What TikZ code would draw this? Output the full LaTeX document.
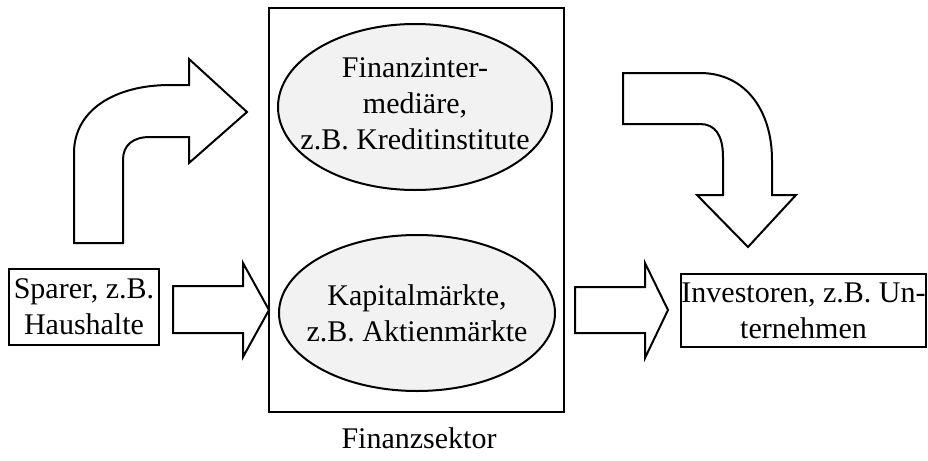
\documentclass[tikz,border=0pt]{standalone}
\usepackage{fontspec}
\setmainfont{Liberation Serif}
\usetikzlibrary{shapes.geometric}

\tikzset{
  blockarrow/.style={draw=black, fill=white, line width=1pt, line join=miter},
  speckled/.style={ellipse, draw, line width=1pt, fill=black!5, inner sep=0pt},
  plainbox/.style={rectangle, draw, line width=0.9pt, inner sep=0pt, align=center}
}

\begin{document}
\begin{tikzpicture}[x=0.5pt, y=-0.5pt, font=\fontsize{15}{18}\selectfont]
    \useasboundingbox (0,0) rectangle (928,461);
    \node [plainbox, line width=1.2pt, minimum width=147.5pt, minimum height=202pt] (sektor) at (416.5,210) {};
    \node [anchor=base] (sektorname) at (419,448) {Finanzsektor}; % Text node
    \node [speckled, minimum width=137pt, minimum height=83pt] (fi) at (415,107) {};
    \node [align=center] (fitext) at (415,104) {Finanzinter-\\mediäre,\\z.B. Kreditinstitute};
    \node [speckled, minimum width=138pt, minimum height=78pt] (km) at (417,313) {};
    \node [align=center] (kmtext) at (km) {Kapitalmärkte,\\z.B. Aktienmärkte};
    \node [plainbox, minimum width=75pt, minimum height=38pt] (sparer) at (84,307) {Sparer, z.B.\\Haushalte};
    \node [plainbox, minimum width=122.5pt, minimum height=36.5pt] (invest) at (803.5,310.5) {Investoren, z.B. Un-\\ternehmen};
    % Curved arrow up into the intermediaries
    \draw[blockarrow] (74,243) -- (74,153) .. controls (74,110) and (115,85) .. (170,85) -- (189,85) -- (189,59)
        -- (247,112) -- (189,163) -- (189,137) -- (150,137) .. controls (133,137) and (123,145) .. (123,160) -- (123,243) -- cycle;
    % Curved arrow down to the investors
    \draw[blockarrow] (623,73) -- (700,73) .. controls (745,73) and (772,110) .. (772,160) -- (772,195) -- (796,195)
        -- (748,247) -- (697,195) -- (723,195) -- (723,157) .. controls (723,135) and (715,124) .. (700,124) -- (623,124) -- cycle;
    % Straight arrows
    \draw[blockarrow] (173,286) -- (243,286) -- (243,263) -- (269,310) -- (243,357) -- (243,333) -- (173,333) -- cycle;
    \draw[blockarrow] (575,287) -- (645,287) -- (645,263) -- (668,310) -- (645,358) -- (645,333) -- (575,333) -- cycle;
\end{tikzpicture}
\end{document}
